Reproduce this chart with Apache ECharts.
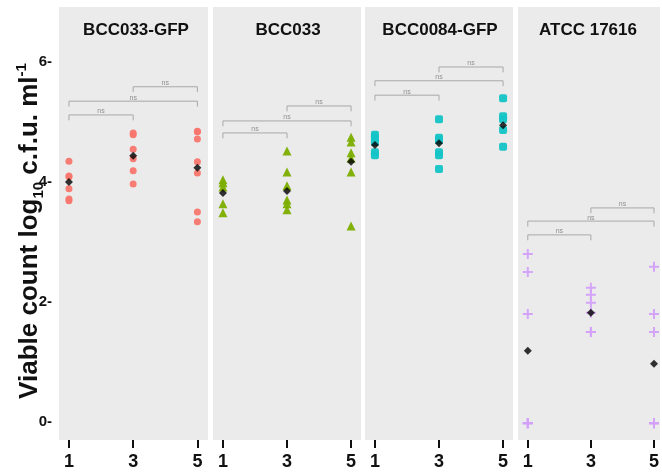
<!DOCTYPE html>
<html>
<head>
<meta charset="utf-8">
<script src="https://cdn.jsdelivr.net/npm/echarts@6/dist/echarts.min.js"></script>
<style>
  html, body { margin: 0; padding: 0; background: #fff; }
  #chart { width: 662px; height: 475px; }
</style>
</head>
<body>
<div id="chart"></div>
<script>
// strains (facets) and sampling days
const strains = ['BCC033-GFP', 'BCC033', 'BCC0084-GFP', 'ATCC 17616']
const days = [1, 3, 5]
const yTicks = [0, 2, 4, 6]

// viable counts, log10 cfu/ml, per day
const bcc033gfp = [
  [4.34, 4.09, 4.08, 3.88, 3.71, 3.68],
  [4.81, 4.78, 4.54, 4.38, 4.18, 3.96],
  [4.84, 4.83, 4.71, 4.33, 4.14, 3.49, 3.33]
]
const bcc033 = [
  [4.03, 3.98, 3.91, 3.63, 3.48],
  [4.51, 4.16, 3.93, 3.69, 3.63, 3.53],
  [4.74, 4.66, 4.48, 4.39, 4.16, 3.26]
]
const bcc0084gfp = [
  [4.78, 4.73, 4.66, 4.49, 4.44],
  [5.04, 4.73, 4.69, 4.49, 4.44, 4.21],
  [5.39, 5.09, 5.04, 4.86, 4.58]
]
const atcc17616 = [
  [2.79, 2.49, 1.79, -0.03, -0.03, -0.03],
  [2.23, 2.11, 1.98, 1.81, 1.49, 1.49],
  [2.58, 1.79, 1.49, -0.03, -0.03, -0.03]
]
// mean markers
const means = [
  [3.99, 4.43, 4.23],
  [3.81, 3.84, 4.33],
  [4.61, 4.64, 4.94],
  [1.18, 1.81, 0.96]
]
// comparison brackets: pairs and their heights per strain
const pairs = [[1, 3], [1, 5], [3, 5]]
const bracketY = [
  [5.11, 5.34, 5.58],
  [4.81, 5.01, 5.26],
  [5.44, 5.68, 5.91],
  [3.11, 3.34, 3.56]
]

const values = [bcc033gfp, bcc033, bcc0084gfp, atcc17616]
const colors = ['#F8766D', '#7CAE00', '#14C4C6', '#D3A0FA']
const symbols = [
  'circle',
  'triangle',
  'roundRect',
  'path://M4,0H6V4H10V6H6V10H4V6H0V4H4Z'
]
const sizes = [7, 9, 8, 10]

const panelLeft = [59, 213, 365, 518]
const panelWidth = [149, 148, 148, 144]
const xMax = [5.33, 5.31, 5.31, 5.19]
const titleX = [136, 288, 440, 588]

const font = 'Liberation Sans, Arial, sans-serif'

const chart = echarts.init(document.getElementById('chart'))

const grids = []
const xAxes = []
const yAxes = []
const series = []
const graphics = []

strains.forEach((name, i) => {
  grids.push({
    left: panelLeft[i],
    width: panelWidth[i],
    top: 7,
    bottom: 35,
    show: true,
    backgroundColor: '#EBEBEB',
    borderWidth: 0
  })
  xAxes.push({
    type: 'value',
    gridIndex: i,
    min: 0.69,
    max: xMax[i],
    axisLine: { show: false, onZero: false },
    splitLine: { show: false },
    axisTick: {
      show: true,
      customValues: days,
      length: 8,
      lineStyle: { color: '#111', width: 2 }
    },
    axisLabel: {
      customValues: days,
      margin: 13,
      color: '#111',
      fontWeight: 'bold',
      fontSize: 18,
      fontFamily: font
    }
  })
  yAxes.push({
    type: 'value',
    gridIndex: i,
    min: -0.31,
    max: 6.91,
    axisLine: { show: false, onZero: false },
    splitLine: { show: false },
    axisTick: { show: false },
    axisLabel: {
      show: i === 0,
      customValues: yTicks,
      formatter: v => v + '-',
      margin: 7,
      color: '#111',
      fontWeight: 'bold',
      fontSize: 15,
      fontFamily: font
    }
  })

  // replicate points
  const pts = []
  values[i].forEach((arr, d) => arr.forEach(v => pts.push([days[d], v])))
  series.push({
    type: 'scatter',
    xAxisIndex: i,
    yAxisIndex: i,
    symbol: symbols[i],
    symbolSize: sizes[i],
    itemStyle: { color: colors[i], opacity: 0.95 },
    data: pts,
    z: 3
  })

  // mean diamonds
  series.push({
    type: 'scatter',
    xAxisIndex: i,
    yAxisIndex: i,
    symbol: 'diamond',
    symbolSize: 8,
    itemStyle: { color: '#000' },
    data: means[i].map((m, d) => [days[d], m]),
    z: 4
  })

  // brackets with "ns"
  pairs.forEach((p, k) => {
    const h = bracketY[i][k]
    series.push({
      type: 'line',
      xAxisIndex: i,
      yAxisIndex: i,
      symbol: 'none',
      silent: true,
      lineStyle: { color: '#A8A8A8', width: 1 },
      data: [[p[0], h - 0.09], [p[0], h], [p[1], h], [p[1], h - 0.09]],
      z: 2
    })
  })
  series.push({
    type: 'scatter',
    xAxisIndex: i,
    yAxisIndex: i,
    symbolSize: 0,
    silent: true,
    label: {
      show: true,
      position: 'top',
      distance: 0,
      formatter: 'ns',
      fontSize: 7,
      color: '#777',
      fontFamily: font
    },
    data: pairs.map((p, k) => [(p[0] + p[1]) / 2, bracketY[i][k]])
  })

  graphics.push({
    type: 'text',
    x: titleX[i],
    y: 30,
    style: {
      text: name,
      fill: '#111',
      font: 'bold 17px ' + font,
      textAlign: 'center',
      textVerticalAlign: 'middle'
    }
  })
})

// y axis title with sub/superscript
graphics.push({
  type: 'text',
  x: 30,
  y: 231,
  rotation: Math.PI / 2,
  style: {
    text: '{a|Viable count log}{s|10}{a| c.f.u. ml}{p|-1}',
    textAlign: 'center',
    textVerticalAlign: 'middle',
    fill: '#111',
    rich: {
      a: { fontSize: 26, fontWeight: 'bold', fontFamily: font, lineHeight: 32, fill: '#111' },
      s: { fontSize: 15, fontWeight: 'bold', fontFamily: font, lineHeight: 15, verticalAlign: 'bottom', fill: '#111' },
      p: { fontSize: 15, fontWeight: 'bold', fontFamily: font, lineHeight: 15, verticalAlign: 'top', fill: '#111' }
    }
  }
})

chart.setOption({
  backgroundColor: '#fff',
  animation: false,
  grid: grids,
  xAxis: xAxes,
  yAxis: yAxes,
  series: series,
  graphic: graphics
})
</script>
</body>
</html>
